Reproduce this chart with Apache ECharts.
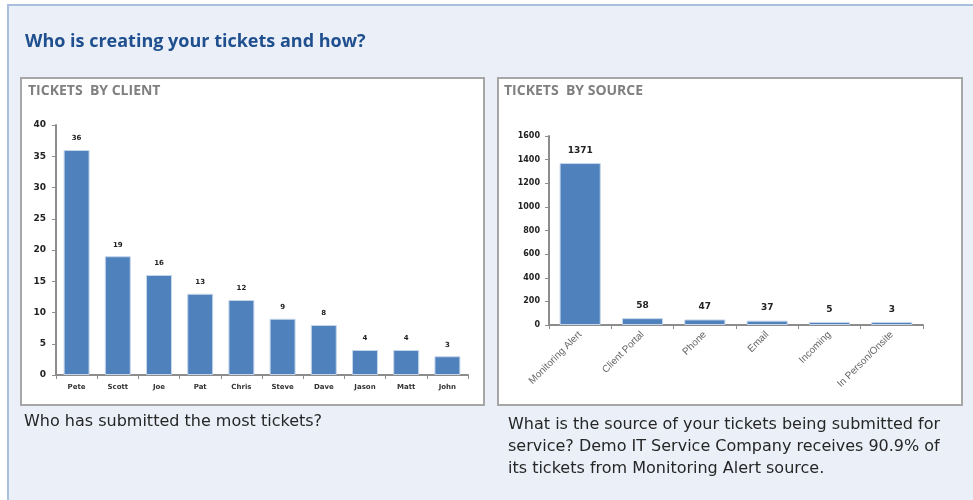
<!DOCTYPE html>
<html>
<head>
<meta charset="utf-8">
<script src="https://cdn.jsdelivr.net/npm/echarts@6/dist/echarts.min.js"></script>
<style>
  html, body { margin: 0; padding: 0; background: #ffffff; }
  #chart { width: 973px; height: 500px; }
</style>
</head>
<body>
<div id="chart"></div>
<script>
// Tickets by client
var clientNames = ['Pete', 'Scott', 'Joe', 'Pat', 'Chris', 'Steve', 'Dave', 'Jason', 'Matt', 'John'];
var clientTickets = [36, 19, 16, 13, 12, 9, 8, 4, 4, 3];

// Tickets by source
var sourceNames = ['Monitoring Alert', 'Client Portal', 'Phone', 'Email', 'Incoming', 'In Person/Onsite'];
var sourceTickets = [1371, 58, 47, 37, 5, 3];

var barColor = '#4f81bd';
var axisGrey = '#8c8c8c';

var chart = echarts.init(document.getElementById('chart'), null, { renderer: 'canvas' });

function valueLabel(size) {
  return {
    show: true, position: 'top', distance: 8,
    fontSize: size, fontWeight: 'bold', color: '#222', fontFamily: 'DejaVu Sans'
  };
}

chart.setOption({
  animation: false,
  backgroundColor: '#ffffff',
  graphic: [
    // panel background
    { type: 'rect', z: -10, shape: { x: 8, y: 5, width: 980, height: 510 },
      style: { fill: '#ebf0f8', stroke: '#a9bfdc', lineWidth: 2 } },
    { type: 'text', left: 25, top: 33, z: 5,
      style: { text: 'Who is creating your tickets and how?', fill: '#1f4f8e',
               font: 'bold 18px "Open Sans"' } },
    // chart frames
    { type: 'rect', z: -5, shape: { x: 21, y: 78, width: 463, height: 327 },
      style: { fill: '#ffffff', stroke: '#a6a6a6', lineWidth: 2 } },
    { type: 'rect', z: -5, shape: { x: 498, y: 78, width: 464, height: 327 },
      style: { fill: '#ffffff', stroke: '#a6a6a6', lineWidth: 2 } },
    { type: 'text', left: 28, top: 84, z: 5,
      style: { text: 'TICKETS  BY CLIENT', fill: '#7f7f7f', font: 'bold 14px "Open Sans"' } },
    { type: 'text', left: 504, top: 84, z: 5,
      style: { text: 'TICKETS  BY SOURCE', fill: '#7f7f7f', font: 'bold 14px "Open Sans"' } },
    // captions
    { type: 'text', left: 24, top: 414, z: 5,
      style: { text: 'Who has submitted the most tickets?', fill: '#262626',
               font: '16px "DejaVu Sans"' } },
    { type: 'text', left: 508, top: 414, z: 5,
      style: { text: 'What is the source of your tickets being submitted for\nservice? Demo IT Service Company receives 90.9% of\nits tickets from Monitoring Alert source.',
               fill: '#262626', font: '16px "DejaVu Sans"', lineHeight: 22 } }
  ],
  grid: [
    { left: 56, top: 125, width: 412, height: 250 },
    { left: 549, top: 136, width: 374, height: 189 }
  ],
  xAxis: [
    { type: 'category', gridIndex: 0, data: clientNames,
      axisLine: { lineStyle: { color: axisGrey, width: 2 } },
      axisTick: { show: true, length: 4, lineStyle: { color: axisGrey } },
      axisLabel: { fontSize: 7, fontWeight: 'bold', color: '#333', margin: 9,
                   fontFamily: 'DejaVu Sans' } },
    { type: 'category', gridIndex: 1, data: sourceNames,
      axisLine: { lineStyle: { color: axisGrey, width: 2 } },
      axisTick: { show: true, length: 4, lineStyle: { color: axisGrey } },
      axisLabel: { fontSize: 10, color: '#666', rotate: 45, margin: 8,
                   fontFamily: 'Liberation Sans', interval: 0 } }
  ],
  yAxis: [
    { type: 'value', gridIndex: 0, min: 0, max: 40, interval: 5,
      splitLine: { show: false },
      axisLine: { show: true, lineStyle: { color: axisGrey, width: 2 } },
      axisTick: { show: true, length: 4, lineStyle: { color: axisGrey } },
      axisLabel: { fontSize: 9, fontWeight: 'bold', color: '#222', margin: 10,
                   fontFamily: 'DejaVu Sans' } },
    { type: 'value', gridIndex: 1, min: 0, max: 1600, interval: 200,
      splitLine: { show: false },
      axisLine: { show: true, lineStyle: { color: axisGrey, width: 2 } },
      axisTick: { show: true, length: 4, lineStyle: { color: axisGrey } },
      axisLabel: { fontSize: 8, fontWeight: 'bold', color: '#222', margin: 9,
                   fontFamily: 'DejaVu Sans', formatter: function (v) { return String(v); } } }
  ],
  series: [
    { type: 'bar', xAxisIndex: 0, yAxisIndex: 0, data: clientTickets,
      barWidth: '63%',
      itemStyle: { color: barColor, borderColor: '#c6d6ea', borderWidth: 1 },
      label: valueLabel(7) },
    { type: 'bar', xAxisIndex: 1, yAxisIndex: 1, data: sourceTickets,
      barWidth: '66%', barMinHeight: 3,
      itemStyle: { color: barColor, borderColor: '#c6d6ea', borderWidth: 1 },
      label: valueLabel(9) }
  ]
});
</script>
</body>
</html>
